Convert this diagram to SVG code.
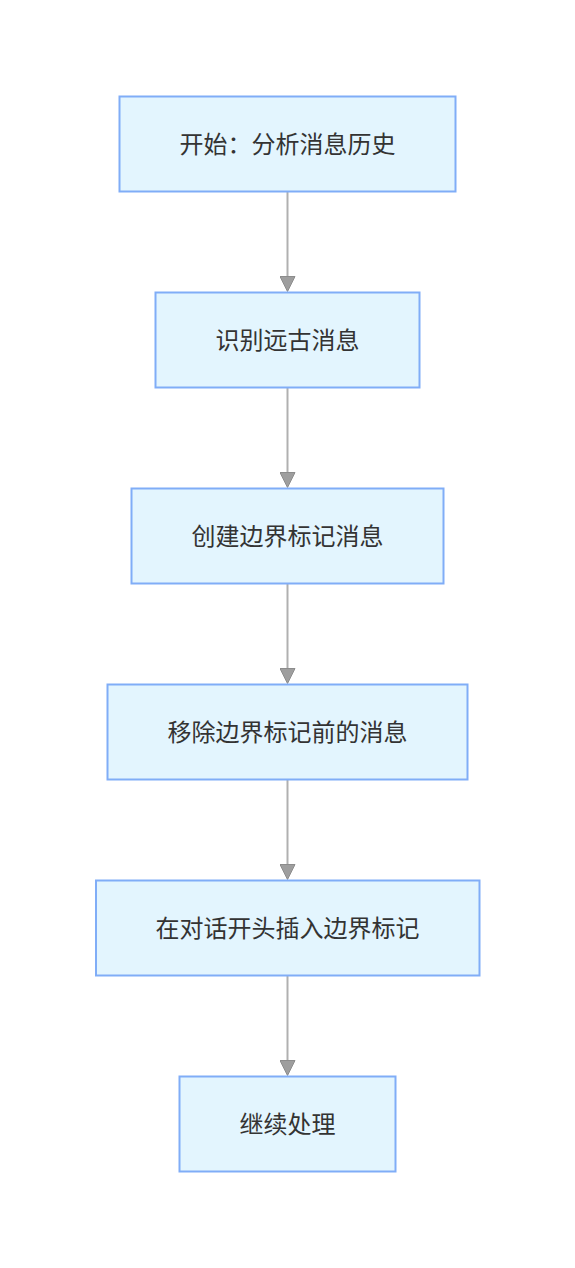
<svg xmlns="http://www.w3.org/2000/svg" width="575" height="1268" viewBox="0 0 575 1268">
<style>
.node rect{fill:#e3f5fe;stroke:#80adf7;stroke-width:2}
.node text{font-family:"Noto Sans CJK SC","Noto Sans",sans-serif;font-size:24px;fill:#333;text-anchor:middle;dominant-baseline:central}
.edges line{stroke:#b0b0b0;stroke-width:2;fill:none}
</style>
<defs>
<marker id="arr" viewBox="0 0 16 16" refX="0" refY="8" markerWidth="16" markerHeight="16" orient="auto" markerUnits="userSpaceOnUse">
<path d="M0.5,0.5 L15.5,8 L0.5,15.5 z" fill="#9e9e9e" stroke="#8c8c8c" stroke-width="1"/>
</marker>
</defs>
<rect width="575" height="1268" fill="#ffffff"/>
<g class="edges">
<line x1="287.5" y1="192" x2="287.5" y2="276" marker-end="url(#arr)"/>
<line x1="287.5" y1="388" x2="287.5" y2="472" marker-end="url(#arr)"/>
<line x1="287.5" y1="584" x2="287.5" y2="668" marker-end="url(#arr)"/>
<line x1="287.5" y1="780" x2="287.5" y2="864" marker-end="url(#arr)"/>
<line x1="287.5" y1="976" x2="287.5" y2="1060" marker-end="url(#arr)"/>
</g>
<g id="n1" class="node"><rect x="119.5" y="96.5" width="336" height="95"/><text x="287.5" y="142">开始：分析消息历史</text></g>
<g id="n2" class="node"><rect x="155.5" y="292.5" width="264" height="95"/><text x="287.5" y="338">识别远古消息</text></g>
<g id="n3" class="node"><rect x="131.5" y="488.5" width="312" height="95"/><text x="287.5" y="534">创建边界标记消息</text></g>
<g id="n4" class="node"><rect x="107.5" y="684.5" width="360" height="95"/><text x="287.5" y="730">移除边界标记前的消息</text></g>
<g id="n5" class="node"><rect x="96" y="880.5" width="383.5" height="95"/><text x="287.5" y="926">在对话开头插入边界标记</text></g>
<g id="n6" class="node"><rect x="179.5" y="1076.5" width="216" height="95"/><text x="287.5" y="1122">继续处理</text></g>
</svg>
